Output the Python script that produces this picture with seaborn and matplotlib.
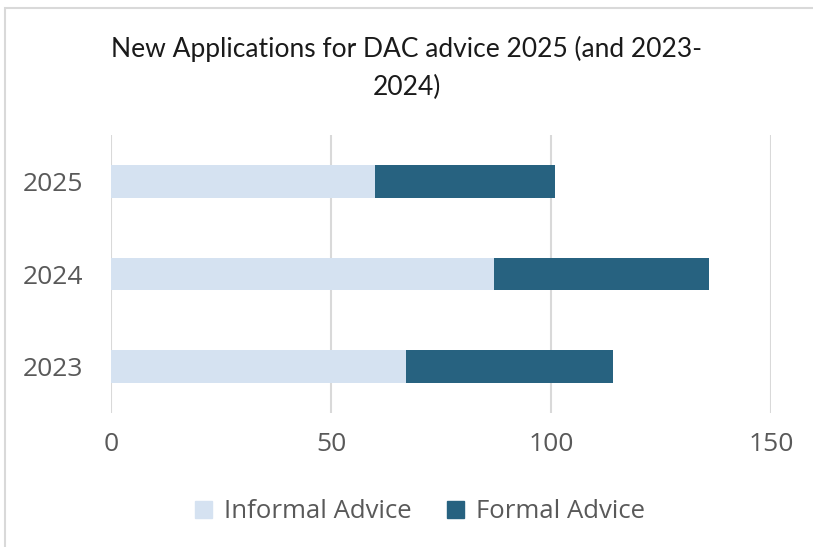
import matplotlib
matplotlib.use("Agg")
import matplotlib.pyplot as plt
import matplotlib.patches as mpatches
import pandas as pd
import seaborn as sns

# values
years = ["2025", "2024", "2023"]
informal = [60, 87, 67]
formal = [41, 49, 47]

df = pd.DataFrame({"Year": years, "Informal": informal, "Formal": formal})
df["Total"] = df["Informal"] + df["Formal"]

light = "#D5E2F1"
dark = "#276280"
grey_txt = "#595959"

sns.set_theme(style="white")
plt.rcParams["font.family"] = ["Open Sans", "DejaVu Sans"]

fig = plt.figure(figsize=(8.13, 5.47), dpi=100)
ax = fig.add_axes([111 / 813, 1 - 413 / 547, 660 / 813, 278 / 547])

# stacked bars: total (formal colour) underneath, informal on top
sns.barplot(data=df, x="Total", y="Year", order=years, color=dark,
            width=0.35, saturation=1, linewidth=0, ax=ax, zorder=3)
sns.barplot(data=df, x="Informal", y="Year", order=years, color=light,
            width=0.35, saturation=1, linewidth=0, ax=ax, zorder=4)

ax.set_xlim(0, 150)
ax.set_xticks([0, 50, 100, 150])
ax.set_ylim(2.5, -0.5)
ax.set_xlabel("")
ax.set_ylabel("")
ax.grid(axis="x", color="#D9D9D9", linewidth=1.5, zorder=0)
ax.set_axisbelow(True)
sns.despine(ax=ax, left=True, bottom=True)
ax.tick_params(axis="both", length=0, labelsize=19, labelcolor=grey_txt)
ax.tick_params(axis="x", pad=14)
ax.tick_params(axis="y", pad=20)

fig.text(0.5, 1 - 68 / 547, "New Applications for DAC advice 2025 (and 2023-\n2024)",
         ha="center", va="center", fontsize=19, color="#1a1a1a", linespacing=1.6,
         family=["Lato", "DejaVu Sans"])

handles = [mpatches.Patch(color=light, label="Informal Advice"),
           mpatches.Patch(color=dark, label="Formal Advice")]
leg = fig.legend(handles=handles, loc="center", bbox_to_anchor=(420 / 813, 1 - 512 / 547),
                 ncol=2, frameon=False, fontsize=18.5, handlelength=0.65,
                 handleheight=0.65, handletextpad=0.45, columnspacing=1.4)
for t in leg.get_texts():
    t.set_color(grey_txt)

# chart frame
fig.patches.append(mpatches.Rectangle((5 / 813, -0.1), 1.2, 1 - 8 / 547 + 0.1,
                                      transform=fig.transFigure, fill=False,
                                      edgecolor="#D9D9D9", linewidth=1.5))

fig.savefig("out.png", dpi=100)
